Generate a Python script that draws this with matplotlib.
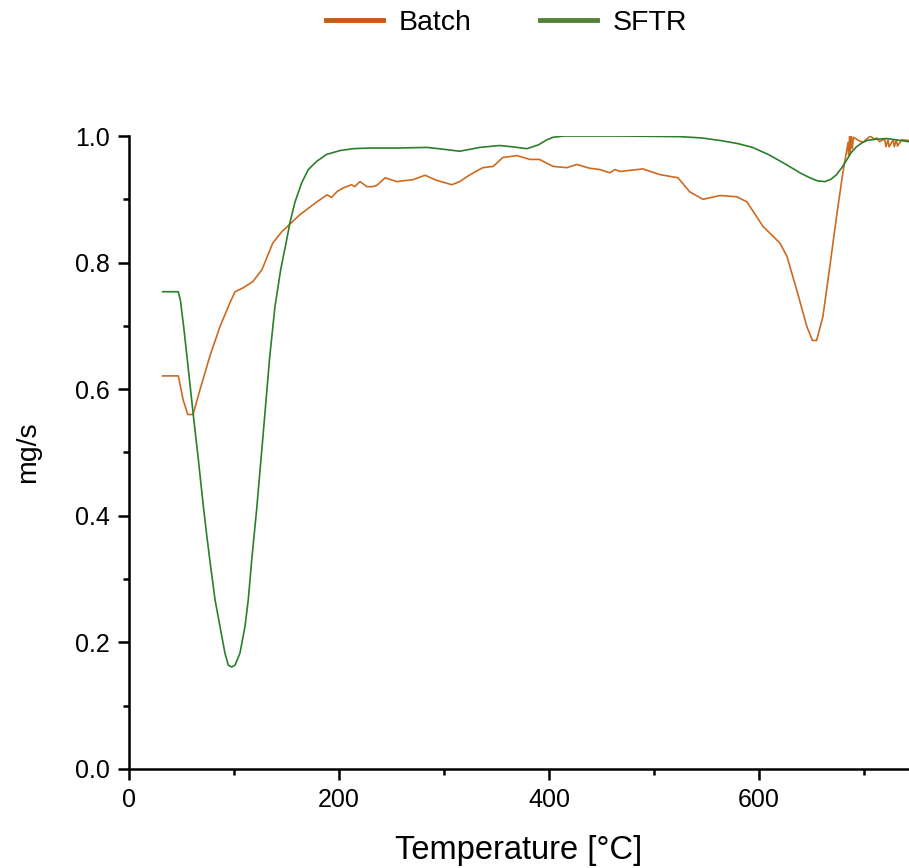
import numpy as np
import matplotlib
matplotlib.use('Agg')
import matplotlib.pyplot as plt
from matplotlib.lines import Line2D
from matplotlib.ticker import MultipleLocator, FormatStrFormatter

plt.rcParams['font.family'] = ['Liberation Sans', 'DejaVu Sans']

# values (temperature in degC, signal in mg/s)
batch_t = [32, 47, 51.6, 56, 61, 67.6, 77, 86.7, 96, 101, 108.6, 118, 126.7,
           137, 145.7, 163, 179, 188.6, 193, 198, 204, 212, 215, 220, 226.7,
           232, 236, 244, 255, 270.5, 282, 293, 307.6, 315, 325, 337, 347,
           356, 369.5, 382, 391, 404, 417, 426.7, 439, 448.6, 458, 463,
           467.6, 489.5, 505.7, 523, 534, 546.7, 563, 579, 588.6, 604, 620,
           626.7, 636, 645.7, 651, 655, 661, 667.6, 674, 680, 685, 685.5,
           686.5, 687, 688, 689, 690, 695, 699, 706, 710, 712, 715, 718,
           720, 721, 723, 724, 728, 729, 731, 732, 736, 743]
batch_v = [0.621, 0.621, 0.583, 0.560, 0.560, 0.599, 0.652, 0.699, 0.736,
           0.754, 0.760, 0.770, 0.789, 0.831, 0.849, 0.876, 0.896, 0.907,
           0.903, 0.912, 0.918, 0.923, 0.920, 0.928, 0.920, 0.920, 0.922,
           0.934, 0.928, 0.931, 0.938, 0.930, 0.923, 0.928, 0.939, 0.950,
           0.952, 0.966, 0.969, 0.963, 0.963, 0.952, 0.950, 0.955, 0.949,
           0.947, 0.942, 0.947, 0.944, 0.948, 0.939, 0.934, 0.912, 0.900,
           0.906, 0.904, 0.896, 0.857, 0.831, 0.810, 0.757, 0.699, 0.677,
           0.677, 0.715, 0.794, 0.873, 0.942, 0.990, 0.970, 1.000, 0.975,
           1.000, 0.980, 0.998, 0.993, 0.990, 1.000, 0.995, 0.997, 0.991,
           0.994, 0.994, 0.983, 0.994, 0.983, 0.994, 0.983, 0.994, 0.984,
           0.994, 0.993]

sftr_t = [32, 47, 49, 52, 56, 61, 66, 70.5, 74, 77, 82, 86.7, 91.4, 94.6,
          97.8, 101, 105.7, 110.5, 113.6, 116.9, 121.6, 127.6, 134, 139,
          144.5, 150.2, 153.3, 158, 164.5, 170.8, 178.8, 188.3, 201, 213.5,
          229.5, 255, 284, 300, 315, 325, 334, 353, 365, 379, 390, 398, 404,
          415, 436, 467.6, 525, 545, 563, 580, 594, 610, 626, 640, 648.6,
          656, 663, 669, 674, 679, 684, 688, 693, 698, 703, 712, 722, 743]
sftr_v = [0.754, 0.754, 0.74, 0.70, 0.64, 0.563, 0.49, 0.420, 0.370, 0.330,
          0.267, 0.225, 0.183, 0.164, 0.161, 0.164, 0.183, 0.225, 0.267,
          0.330, 0.410, 0.525, 0.650, 0.730, 0.789, 0.836, 0.863, 0.895,
          0.926, 0.947, 0.960, 0.971, 0.977, 0.980, 0.981, 0.981, 0.982,
          0.979, 0.976, 0.979, 0.982, 0.985, 0.983, 0.980, 0.986, 0.994,
          0.998, 1.000, 1.000, 1.000, 0.999, 0.997, 0.993, 0.988, 0.982,
          0.970, 0.955, 0.941, 0.934, 0.929, 0.928, 0.932, 0.939, 0.950,
          0.963, 0.974, 0.983, 0.989, 0.993, 0.995, 0.996, 0.991]

series_names = ['Batch', 'SFTR']

fig = plt.figure(figsize=(9.09, 8.68), dpi=100)
ax = fig.add_axes([0.1419, 0.1141, 0.8581, 0.7292])

ax.plot(batch_t, batch_v, color='#CD6A1F', lw=1.2)
ax.plot(sftr_t, sftr_v, color='#2A7F2A', lw=1.2)

ax.set_xlim(0, 743)
ax.set_ylim(0, 1.0)
ax.xaxis.set_major_locator(MultipleLocator(200))
ax.xaxis.set_minor_locator(MultipleLocator(100))
ax.yaxis.set_major_locator(MultipleLocator(0.2))
ax.yaxis.set_minor_locator(MultipleLocator(0.1))
ax.yaxis.set_major_formatter(FormatStrFormatter('%.1f'))

for s in ['top', 'right']:
    ax.spines[s].set_visible(False)
for s in ['left', 'bottom']:
    ax.spines[s].set_linewidth(1.8)
ax.tick_params(which='major', direction='out', length=8, width=1.8,
               labelsize=18, pad=6)
ax.tick_params(which='minor', direction='out', length=4.5, width=1.8)

ax.set_xlabel('Temperature [°C]', fontsize=23.5, labelpad=16)
ax.set_ylabel('mg/s', fontsize=20.5, labelpad=24)

handles = [Line2D([], [], color='#C55A11', lw=3.5),
           Line2D([], [], color='#548235', lw=3.5)]
fig.legend(handles, series_names, loc='center', ncol=2, frameon=False,
           bbox_to_anchor=(0.557, 0.973), fontsize=20.5, handlelength=2.0,
           handletextpad=0.55, columnspacing=2.4)

plt.savefig('out.png')
